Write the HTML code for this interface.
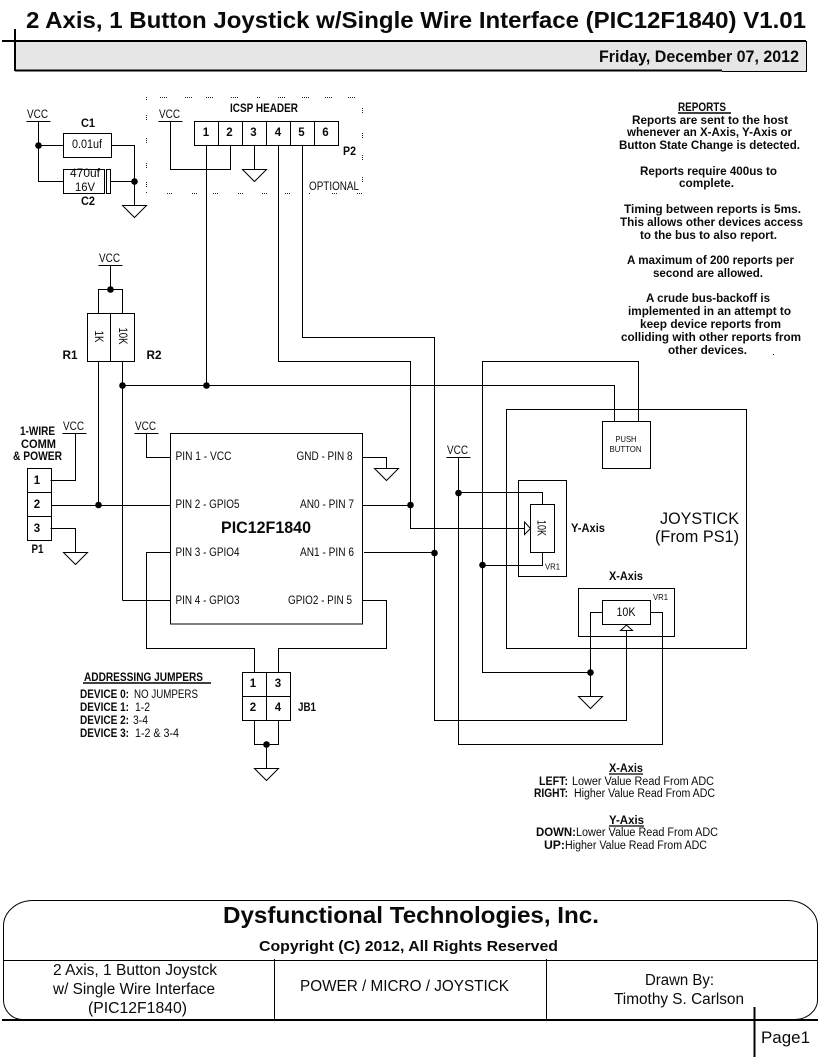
<!DOCTYPE html>
<html><head><meta charset="utf-8"><style>
html,body{margin:0;padding:0;background:#fff}
svg{display:block}
text{font-family:"Liberation Sans",sans-serif;fill:#0a0a0a}
.b{font-weight:bold;font-size:11.5px}
.r{font-size:11.5px}
.l{fill:none;stroke:#000;stroke-width:1;shape-rendering:crispEdges}
.g{fill:#fff;stroke:#000;stroke-width:1}
.d{fill:#000}
.o{stroke:#222;stroke-width:1;stroke-dasharray:1 1;fill:none;shape-rendering:crispEdges}
</style></head><body>
<svg xmlns="http://www.w3.org/2000/svg" width="838" height="1058" viewBox="0 0 838 1058">
<rect width="838" height="1058" fill="#fff"/>

<!-- header -->
<rect x="15" y="41" width="791.5" height="30" fill="#e6e6e6"/>
<path d="M2 41H806" stroke="#000" stroke-width="2" fill="none"/>
<path d="M15 29V71" stroke="#000" stroke-width="2" fill="none"/>
<path d="M15 70.5H722" stroke="#000" stroke-width="2" fill="none"/>
<path d="M722 71.5H806.5V41" class="l"/>
<text x="26" y="28" font-size="23" font-weight="bold" textLength="780" lengthAdjust="spacingAndGlyphs">2 Axis, 1 Button Joystick w/Single Wire Interface (PIC12F1840) V1.01</text>
<text x="599" y="62" font-size="16.5" font-weight="bold" textLength="200" lengthAdjust="spacingAndGlyphs">Friday, December 07, 2012</text>

<!-- C1 C2 -->
<text class="r" x="27" y="118" textLength="21" lengthAdjust="spacingAndGlyphs">VCC</text>
<path class="l" d="M26.5 121.5H50.5M38.5 121.5V181.5H63.5M38.5 145.5H63.5M111.5 145.5H134.5V205.5M110.5 181.5H134.5"/>
<rect class="l" x="63.5" y="133.5" width="48" height="24"/>
<rect class="l" x="63.5" y="169.5" width="41" height="24"/>
<rect class="l" x="106.5" y="169.5" width="4" height="24"/>
<circle class="d" cx="38.5" cy="145.5" r="3.3"/><circle class="d" cx="134.5" cy="181.5" r="3.3"/>
<polygon class="g" points="122.5,205.5 146.5,205.5 134.5,217.5"/>
<text class="b" x="81" y="127" textLength="14" lengthAdjust="spacingAndGlyphs">C1</text>
<text class="b" x="81" y="205" textLength="14" lengthAdjust="spacingAndGlyphs">C2</text>
<text class="r" x="72" y="148" textLength="30" lengthAdjust="spacingAndGlyphs">0.01uf</text>
<text class="r" x="70" y="177" textLength="30" lengthAdjust="spacingAndGlyphs">470uf</text>
<text class="r" x="75" y="191" textLength="20" lengthAdjust="spacingAndGlyphs">16V</text>

<!-- ICSP dotted outline -->
<path class="o" d="M160 97.5h7M185 97.5h7M206 97.5h7M231 97.5h7M257 97.5h3M278 97.5h7M302 97.5h7M325 97.5h7M348 97.5h7"/>
<path class="o" d="M167 193.5h6M192 193.5h6M213 193.5h6M238 193.5h6M262 193.5h6M285 193.5h6M309 193.5h2M332 193.5h6M357 193.5h6"/>
<path class="o" d="M146.5 97v4M146.5 115v5M146.5 138v5M146.5 163v5M146.5 182v6M146.5 192v2"/>
<path class="o" d="M362.5 108v5M362.5 133v5M362.5 155v5M362.5 177v5"/>
<text class="b" x="230" y="112" textLength="68" lengthAdjust="spacingAndGlyphs">ICSP HEADER</text>
<text class="r" x="159" y="118" textLength="21" lengthAdjust="spacingAndGlyphs">VCC</text>
<path class="l" d="M158.5 121.5H182.5M170.5 121.5V169.5H230.5V145.5"/>
<rect class="l" x="194.5" y="121.5" width="144" height="24"/>
<path class="l" d="M218.5 121.5V145.5M242.5 121.5V145.5M266.5 121.5V145.5M290.5 121.5V145.5M314.5 121.5V145.5"/>
<path class="l" d="M254.5 145.5V169.5"/>
<polygon class="g" points="242.5,169.5 266.5,169.5 254.5,181.5"/>
<text class="b" x="206" y="136" text-anchor="middle">1</text><text class="b" x="229.5" y="136" text-anchor="middle">2</text><text class="b" x="253.5" y="136" text-anchor="middle">3</text><text class="b" x="278" y="136" text-anchor="middle">4</text><text class="b" x="301.5" y="136" text-anchor="middle">5</text><text class="b" x="325.5" y="136" text-anchor="middle">6</text>
<text class="b" x="343" y="155" textLength="13" lengthAdjust="spacingAndGlyphs">P2</text>
<text class="r" x="309" y="190" textLength="50" lengthAdjust="spacingAndGlyphs">OPTIONAL</text>

<!-- long wires from ICSP -->
<path class="l" d="M206.5 145.5V385.5"/>
<path class="l" d="M278.5 145.5V361.5H410.5V528.5H525"/>
<path class="l" d="M302.5 145.5V337.5H434.5V720.5H626.5V630"/>
<path class="l" d="M122.5 385.5H614.5V421.5"/>
<path class="l" d="M638.5 421.5V361.5H482.5V672.5H590.5"/>

<!-- R1 R2 -->
<text class="r" x="99" y="262" textLength="21" lengthAdjust="spacingAndGlyphs">VCC</text>
<path class="l" d="M98.5 265.5H122.5M110.5 265.5V289.5M98.5 313.5V289.5H122.5V313.5"/>
<circle class="d" cx="110.5" cy="289.5" r="3.3"/>
<rect class="l" x="87.5" y="313.5" width="47" height="48"/>
<path class="l" d="M110.5 313.5V361.5M98.5 361.5V505.5M122.5 361.5V600.5"/>
<text class="r" transform="translate(95 330.5) rotate(90)" textLength="12" lengthAdjust="spacingAndGlyphs">1K</text>
<text class="r" transform="translate(119 327.5) rotate(90)" textLength="17" lengthAdjust="spacingAndGlyphs">10K</text>
<text class="b" x="62.5" y="359" textLength="15" lengthAdjust="spacingAndGlyphs">R1</text>
<text class="b" x="146.5" y="359" textLength="15" lengthAdjust="spacingAndGlyphs">R2</text>
<circle class="d" cx="122.5" cy="385.5" r="3.3"/><circle class="d" cx="206.5" cy="385.5" r="3.3"/>
<circle class="d" cx="98.5" cy="505" r="3.3"/>

<!-- P1 -->
<text class="b" x="20" y="435" textLength="35" lengthAdjust="spacingAndGlyphs">1-WIRE</text>
<text class="b" x="21" y="448" textLength="35" lengthAdjust="spacingAndGlyphs">COMM</text>
<text class="b" x="13" y="460" textLength="49" lengthAdjust="spacingAndGlyphs">&amp; POWER</text>
<text class="r" x="63" y="430" textLength="21" lengthAdjust="spacingAndGlyphs">VCC</text>
<path class="l" d="M62.5 433.5H86.5M75.5 433.5V480.5H50.5M51.5 505.5H170.5M50.5 528.5H75.5V552.5"/>
<rect class="l" x="27.5" y="468.5" width="24" height="72"/>
<path class="l" d="M27.5 492.5H51.5M27.5 516.5H51.5"/>
<polygon class="g" points="63.5,552.5 87.5,552.5 75.5,564.5"/>
<text class="b" x="37" y="484" text-anchor="middle">1</text>
<text class="b" x="37" y="508" text-anchor="middle">2</text>
<text class="b" x="37" y="532" text-anchor="middle">3</text>
<text class="b" x="31.5" y="553" textLength="12" lengthAdjust="spacingAndGlyphs">P1</text>

<!-- PIC -->
<text class="r" x="135" y="430" textLength="21" lengthAdjust="spacingAndGlyphs">VCC</text>
<path class="l" d="M134.5 433.5H158.5M146.5 433.5V457.5H170.5"/>
<rect class="l" x="170.5" y="433.5" width="192" height="190.5"/>
<text class="r" x="175.5" y="460" textLength="56" lengthAdjust="spacingAndGlyphs">PIN 1 - VCC</text>
<text class="r" x="175.5" y="508" textLength="64" lengthAdjust="spacingAndGlyphs">PIN 2 - GPIO5</text>
<text class="r" x="175.5" y="556" textLength="64" lengthAdjust="spacingAndGlyphs">PIN 3 - GPIO4</text>
<text class="r" x="175.5" y="604" textLength="64" lengthAdjust="spacingAndGlyphs">PIN 4 - GPIO3</text>
<text class="r" x="296.5" y="460" textLength="56" lengthAdjust="spacingAndGlyphs">GND - PIN 8</text>
<text class="r" x="300" y="508" textLength="54" lengthAdjust="spacingAndGlyphs">AN0 - PIN 7</text>
<text class="r" x="300" y="556" textLength="54" lengthAdjust="spacingAndGlyphs">AN1 - PIN 6</text>
<text class="r" x="288" y="604" textLength="64" lengthAdjust="spacingAndGlyphs">GPIO2 - PIN 5</text>
<text x="221" y="533" font-size="16.5" font-weight="bold" textLength="90" lengthAdjust="spacingAndGlyphs">PIC12F1840</text>
<path class="l" d="M362.5 457.5H386.5V468.5"/>
<polygon class="g" points="374.5,468.5 398.5,468.5 386.5,480.5"/>
<path class="l" d="M362.5 505.5H410.5M364 552.5H434.5"/>
<circle class="d" cx="410.5" cy="505" r="3.3"/><circle class="d" cx="434.5" cy="553" r="3.3"/>
<path class="l" d="M170.5 552.5H146.5V648.5H254.5V672.5"/>
<path class="l" d="M122.5 600.5H170.5"/>
<path class="l" d="M362.5 600.5H386.5V648.5H278.5V672.5"/>

<!-- JB1 -->
<rect class="l" x="242.5" y="672.5" width="48" height="48"/>
<path class="l" d="M266.5 672.5V720.5M242.5 696.5H290.5"/>
<text class="b" x="253" y="687" text-anchor="middle">1</text>
<text class="b" x="278" y="687" text-anchor="middle">3</text>
<text class="b" x="253" y="711" text-anchor="middle">2</text>
<text class="b" x="278" y="711" text-anchor="middle">4</text>
<text class="b" x="298" y="711" textLength="18" lengthAdjust="spacingAndGlyphs">JB1</text>
<path class="l" d="M254.5 720.5V744.5H278.5V720.5M266.5 744.5V768.5"/>
<circle class="d" cx="266.5" cy="744.5" r="3.3"/>
<polygon class="g" points="254.5,768.5 278.5,768.5 266.5,780.5"/>

<text class="b" x="84" y="681" textLength="119" lengthAdjust="spacingAndGlyphs">ADDRESSING JUMPERS</text>
<path d="M83 683H211" stroke="#000" stroke-width="1.5"/>
<text class="b" x="80" y="698" textLength="49" lengthAdjust="spacingAndGlyphs">DEVICE 0:</text><text class="r" x="134" y="698" textLength="64" lengthAdjust="spacingAndGlyphs">NO JUMPERS</text>
<text class="b" x="80" y="711" textLength="49" lengthAdjust="spacingAndGlyphs">DEVICE 1:</text><text class="r" x="135" y="711" textLength="15" lengthAdjust="spacingAndGlyphs">1-2</text>
<text class="b" x="80" y="724" textLength="49" lengthAdjust="spacingAndGlyphs">DEVICE 2:</text><text class="r" x="133" y="724" textLength="15" lengthAdjust="spacingAndGlyphs">3-4</text>
<text class="b" x="80" y="737" textLength="49" lengthAdjust="spacingAndGlyphs">DEVICE 3:</text><text class="r" x="135" y="737" textLength="44" lengthAdjust="spacingAndGlyphs">1-2 &amp; 3-4</text>

<!-- Joystick -->
<rect class="l" x="506.5" y="409.5" width="240" height="239"/>
<rect class="l" x="602.5" y="421.5" width="48" height="47"/>
<text x="615.5" y="442" font-size="8.5" textLength="21" lengthAdjust="spacingAndGlyphs">PUSH</text>
<text x="609.5" y="452" font-size="8.5" textLength="32" lengthAdjust="spacingAndGlyphs">BUTTON</text>
<text x="660" y="524" font-size="16.5" textLength="79" lengthAdjust="spacingAndGlyphs">JOYSTICK</text>
<text x="655" y="542" font-size="16.5" textLength="84" lengthAdjust="spacingAndGlyphs">(From PS1)</text>

<text class="r" x="447" y="454" textLength="21" lengthAdjust="spacingAndGlyphs">VCC</text>
<path class="l" d="M446.5 457.5H470.5M458.5 457.5V744.5H662.5V612.5H650.5"/>
<path class="l" d="M458.5 492.5H542.5V504.5M482.5 565.5H542.5V552.5"/>
<circle class="d" cx="458.5" cy="493" r="3.3"/><circle class="d" cx="482.5" cy="565" r="3.3"/>
<rect class="l" x="518.5" y="480.5" width="48" height="96"/>
<rect class="l" x="530.5" y="504.5" width="24" height="48"/>
<polygon class="g" points="524.5,522 524.5,534.5 530.5,528.5"/>
<text x="537.5" y="520" font-size="12" transform="rotate(90 537.5 520)" textLength="16" lengthAdjust="spacingAndGlyphs">10K</text>
<text x="545" y="569.5" font-size="8.5" textLength="15" lengthAdjust="spacingAndGlyphs">VR1</text>
<text class="b" x="571" y="532" textLength="34" lengthAdjust="spacingAndGlyphs">Y-Axis</text>
<text class="b" x="609" y="580" textLength="34" lengthAdjust="spacingAndGlyphs">X-Axis</text>

<rect class="l" x="578.5" y="588.5" width="96" height="48"/>
<rect class="l" x="602.5" y="600.5" width="48" height="24"/>
<text x="616.5" y="616" font-size="12" textLength="19" lengthAdjust="spacingAndGlyphs">10K</text>
<text x="653" y="600" font-size="8.5" textLength="15" lengthAdjust="spacingAndGlyphs">VR1</text>
<polygon class="g" points="620.5,630.5 632.5,630.5 626.5,625"/>
<path class="l" d="M602.5 612.5H590.5V696.5"/>
<circle class="d" cx="590.5" cy="672.5" r="3.3"/>
<polygon class="g" points="578.5,696.5 602.5,696.5 590.5,708.5"/>

<!-- Reports -->
<text class="b" x="678" y="111" textLength="48" lengthAdjust="spacingAndGlyphs">REPORTS</text>
<path d="M678 113H731" stroke="#000" stroke-width="1.5"/>
<text class="b" x="632" y="124" textLength="156" lengthAdjust="spacingAndGlyphs">Reports are sent to the host</text>
<text class="b" x="627" y="136" textLength="165" lengthAdjust="spacingAndGlyphs">whenever an X-Axis, Y-Axis or</text>
<text class="b" x="619" y="149" textLength="181" lengthAdjust="spacingAndGlyphs">Button State Change is detected.</text>
<text class="b" x="640" y="175" textLength="137" lengthAdjust="spacingAndGlyphs">Reports require 400us to</text>
<text class="b" x="679" y="187" textLength="55" lengthAdjust="spacingAndGlyphs">complete.</text>
<text class="b" x="624" y="213" textLength="177" lengthAdjust="spacingAndGlyphs">Timing between reports is 5ms.</text>
<text class="b" x="620" y="226" textLength="183" lengthAdjust="spacingAndGlyphs">This allows other devices access</text>
<text class="b" x="640" y="239" textLength="137" lengthAdjust="spacingAndGlyphs">to the bus to also report.</text>
<text class="b" x="627" y="264" textLength="167" lengthAdjust="spacingAndGlyphs">A maximum of 200 reports per</text>
<text class="b" x="653" y="277" textLength="110" lengthAdjust="spacingAndGlyphs">second are allowed.</text>
<text class="b" x="646" y="302" textLength="124" lengthAdjust="spacingAndGlyphs">A crude bus-backoff is</text>
<text class="b" x="628" y="315" textLength="163" lengthAdjust="spacingAndGlyphs">implemented in an attempt to</text>
<text class="b" x="640" y="328" textLength="141" lengthAdjust="spacingAndGlyphs">keep device reports from</text>
<text class="b" x="621" y="341" textLength="180" lengthAdjust="spacingAndGlyphs">colliding with other reports from</text>
<text class="b" x="668" y="354" textLength="79" lengthAdjust="spacingAndGlyphs">other devices.</text>
<rect x="773" y="354" width="1" height="1" fill="#000"/>

<!-- Axis notes -->
<text class="b" x="609" y="772" textLength="34" lengthAdjust="spacingAndGlyphs">X-Axis</text>
<path d="M609 774H643" stroke="#000" stroke-width="1.2"/>
<text class="b" x="539" y="785" textLength="29" lengthAdjust="spacingAndGlyphs">LEFT:</text>
<text class="r" x="572" y="785" textLength="142" lengthAdjust="spacingAndGlyphs">Lower Value Read From ADC</text>
<text class="b" x="534" y="797" textLength="34" lengthAdjust="spacingAndGlyphs">RIGHT:</text>
<text class="r" x="574" y="797" textLength="141" lengthAdjust="spacingAndGlyphs">Higher Value Read From ADC</text>
<text class="b" x="609" y="824" textLength="35" lengthAdjust="spacingAndGlyphs">Y-Axis</text>
<path d="M609 826H644" stroke="#000" stroke-width="1.2"/>
<text class="b" x="536" y="836" textLength="40" lengthAdjust="spacingAndGlyphs">DOWN:</text>
<text class="r" x="576" y="836" textLength="142" lengthAdjust="spacingAndGlyphs">Lower Value Read From ADC</text>
<text class="b" x="544" y="849" textLength="21" lengthAdjust="spacingAndGlyphs">UP:</text>
<text class="r" x="565" y="849" textLength="142" lengthAdjust="spacingAndGlyphs">Higher Value Read From ADC</text>

<!-- Title block -->
<path fill="none" stroke="#000" stroke-width="1" d="M795 1019.5A23 20 0 0 0 817.5 998V926A30 25.5 0 0 0 787.5 900.5H33A29.5 25.5 0 0 0 3.5 926V998A19 20 0 0 0 22 1019.5"/>
<path class="l" d="M3.5 960.5H817.5M274.5 959V1020M546.5 959V1020"/>
<path d="M2 1020H818" stroke="#000" stroke-width="2" fill="none"/>
<path d="M754.5 1007V1057" stroke="#000" stroke-width="2" fill="none"/>
<text x="223" y="923" font-size="23" font-weight="bold" textLength="376" lengthAdjust="spacingAndGlyphs">Dysfunctional Technologies, Inc.</text>
<text x="259" y="951" font-size="15" font-weight="bold" textLength="299" lengthAdjust="spacingAndGlyphs">Copyright (C) 2012, All Rights Reserved</text>
<text x="53" y="975" font-size="15.5" textLength="164" lengthAdjust="spacingAndGlyphs">2 Axis, 1 Button Joystck</text>
<text x="53" y="994" font-size="15.5" textLength="162" lengthAdjust="spacingAndGlyphs">w/ Single Wire Interface</text>
<text x="88" y="1013" font-size="15.5" textLength="99" lengthAdjust="spacingAndGlyphs">(PIC12F1840)</text>
<text x="300" y="991" font-size="15.5" textLength="209" lengthAdjust="spacingAndGlyphs">POWER / MICRO / JOYSTICK</text>
<text x="645" y="985" font-size="15.5" textLength="69" lengthAdjust="spacingAndGlyphs">Drawn By:</text>
<text x="614" y="1004" font-size="15.5" textLength="130" lengthAdjust="spacingAndGlyphs">Timothy S. Carlson</text>
<text x="761" y="1043" font-size="16.5" textLength="49" lengthAdjust="spacingAndGlyphs">Page1</text>
</svg>
</body></html>
